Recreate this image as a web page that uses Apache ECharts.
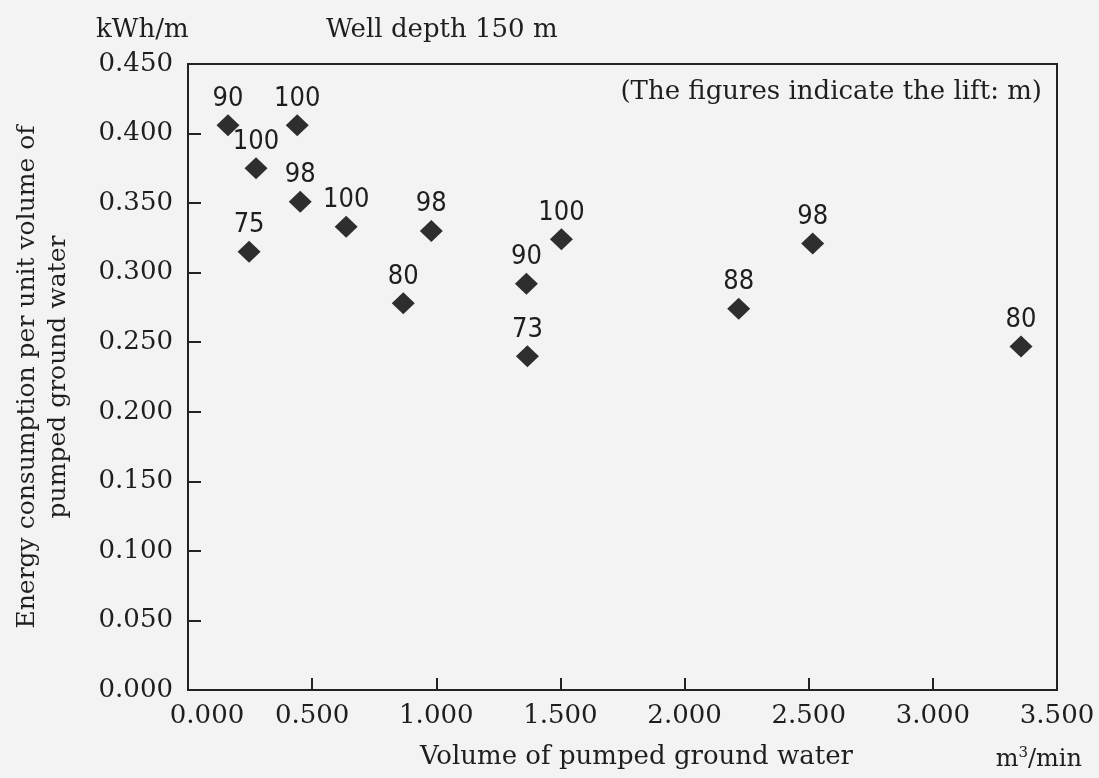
<!DOCTYPE html>
<html>
<head>
<meta charset="utf-8">
<script src="https://cdn.jsdelivr.net/npm/echarts@6/dist/echarts.min.js"></script>
<style>
html,body{margin:0;padding:0;background:#f3f3f3;}
#chart{width:1099px;height:778px;}
</style>
</head>
<body>
<div id="chart"></div>
<script>
// Volume of pumped ground water (m3/min)
var volume = [0.161, 0.440, 0.274, 0.452, 0.246, 0.637, 0.980, 0.867, 1.363, 1.367, 1.504, 2.516, 2.218, 3.355];
// Energy consumption per unit volume (kWh/m3)
var energy = [0.406, 0.406, 0.375, 0.351, 0.315, 0.333, 0.330, 0.278, 0.292, 0.240, 0.324, 0.321, 0.274, 0.247];
// Lift (m)
var lift = [90, 100, 100, 98, 75, 100, 98, 80, 90, 73, 100, 98, 88, 80];

var points = volume.map(function (v, i) { return [v, energy[i], lift[i]]; });

var serif = "'DejaVu Serif', 'Liberation Serif', serif";
var cond = "'DejaVu Sans Condensed', 'DejaVu Sans', sans-serif";
var ink = '#1e1e1e';
var fs = 26;

var chart = echarts.init(document.getElementById('chart'));
chart.setOption({
  backgroundColor: '#f3f3f3',
  animation: false,
  title: [
    { text: 'Well depth 150 m', left: 321, top: 12,
      textStyle: { fontFamily: serif, fontSize: fs, fontWeight: 'normal', color: ink } },
    { text: 'kWh/m', left: 91, top: 12,
      textStyle: { fontFamily: serif, fontSize: fs, fontWeight: 'normal', color: ink } },
    { text: '(The figures indicate the lift: m)', right: 52, top: 74,
      textStyle: { fontFamily: serif, fontSize: fs, fontWeight: 'normal', color: ink } },
    { text: 'm{s|3}/min', right: 12, top: 741,
      textStyle: { fontFamily: serif, fontSize: 24, fontWeight: 'normal', color: ink,
        rich: { s: { fontFamily: serif, fontSize: 15, color: ink, verticalAlign: 'top', padding: [0, 0, 12, 0] } } } }
  ],
  grid: { left: 188, right: 42, top: 64, bottom: 88, outerBoundsMode: 'none', containLabel: false,
    show: true, borderColor: '#222', borderWidth: 2, backgroundColor: 'transparent' },
  xAxis: {
    type: 'value', min: 0, max: 3.5, interval: 0.5,
    name: 'Volume of pumped ground water', nameLocation: 'middle', nameGap: 54,
    nameTextStyle: { fontFamily: serif, fontSize: fs, color: ink, padding: [0, 0, 0, 28] },
    axisLine: { lineStyle: { color: '#222', width: 2 } },
    axisTick: { inside: true, length: 12, lineStyle: { color: '#222', width: 2 } },
    splitLine: { show: false },
    axisLabel: {
      margin: 13, fontFamily: serif, fontSize: fs, color: ink,
      formatter: function (v) { return v === 0 ? '{f|' + v.toFixed(3) + '}' : v.toFixed(3); },
      rich: { f: { fontFamily: serif, fontSize: fs, color: ink, padding: [0, 0, 0, 38] } }
    }
  },
  yAxis: {
    type: 'value', min: 0, max: 0.45, interval: 0.05,
    name: 'Energy consumption per unit volume of\npumped ground water',
    nameLocation: 'middle', nameRotate: 90, nameGap: 114,
    nameTextStyle: { fontFamily: serif, fontSize: 25, color: ink, lineHeight: 31 },
    axisLine: { lineStyle: { color: '#222', width: 2 } },
    axisTick: { inside: true, length: 13, lineStyle: { color: '#222', width: 2 } },
    splitLine: { show: false },
    axisLabel: { margin: 15, fontFamily: serif, fontSize: fs, color: ink,
      formatter: function (v) { return v.toFixed(3); } }
  },
  series: [{
    type: 'scatter',
    data: points,
    symbol: 'diamond',
    symbolSize: [23, 22],
    itemStyle: { color: '#2e2e2e', opacity: 1 },
    label: {
      show: true, position: 'top', distance: 2,
      fontFamily: cond, fontSize: 27, color: ink,
      formatter: function (p) { return String(p.value[2]); }
    }
  }]
});
</script>
</body>
</html>
